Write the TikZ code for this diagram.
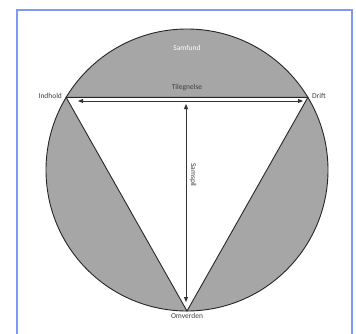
\documentclass[tikz,border=0pt]{standalone}
\usepackage{fontspec}
\setmainfont{Carlito}
\usetikzlibrary{arrows.meta, positioning, calc}
\definecolor{framecol}{HTML}{7D98F5}
\definecolor{segcol}{HTML}{A6A6A6}
\definecolor{txtcol}{HTML}{404040}

\begin{document}
\begin{tikzpicture}[
    x=1pt, y=1pt,
    lbl/.style={font=\fontsize{7.5}{9}\selectfont, text=txtcol, inner sep=1pt},
    arr/.style={{Triangle[length=5pt,width=4pt]}-{Triangle[length=5pt,width=4pt]}, line width=0.9pt, draw=black!80},
    edge/.style={line width=0.9pt, draw=black!85}
  ]
  \useasboundingbox (0,0) rectangle (356,333);
  \draw[framecol, line width=2pt] (17,-10) rectangle (352,323);

  \coordinate (c) at (187,163);
  \coordinate (ind) at ($(c)+(149:141)$);
  \coordinate (dri) at ($(c)+(31:141)$);
  \coordinate (omv) at ($(c)+(270:141)$);

  \fill[segcol] (c) circle (141);
  \fill[white] (ind) -- (dri) -- (omv) -- cycle;
  \draw[edge] (c) circle (141);
  \draw[edge, line join=miter] (ind) -- (dri) -- (omv) -- cycle;

  \node[lbl, text=white] (samf) at (187,285) {Samfund};
  \node[lbl] (tileg) at (187,245) {Tilegnelse};
  \node[lbl, anchor=east] (indh) at ($(ind)+(-3,1)$) {Indhold};
  \node[lbl, anchor=west] (drift) at ($(dri)+(3,1)$) {Drift};
  \node[lbl, anchor=north] (omverd) at ($(omv)+(0,-1)$) {Omverden};

  \coordinate (hl) at (78,232);
  \coordinate (hr) at (303,232);
  \coordinate (vt) at (186,229);
  \coordinate (vb) at (186,31);
  \draw[arr] (hl) -- (hr);
  \draw[arr] (vt) -- (vb);
  \node[lbl, rotate=-90] (samsp) at (193,158) {Samspil};
\end{tikzpicture}
\end{document}
